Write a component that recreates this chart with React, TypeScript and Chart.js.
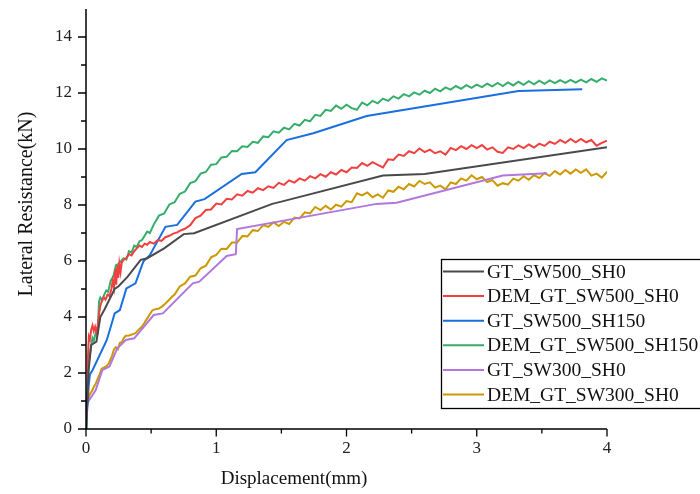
import React, { useEffect, useRef } from "react";
import { Chart, registerables } from "chart.js";

Chart.register(...registerables);

const SERIES_NAMES = [
  "GT_SW500_SH0",
  "DEM_GT_SW500_SH0",
  "GT_SW500_SH150",
  "DEM_GT_SW500_SH150",
  "GT_SW300_SH0",
  "DEM_GT_SW300_SH0",
];
const SERIES_COLORS = ["#4a4a4a", "#f14040", "#1a6fdf", "#37ad6b", "#b177de", "#cc9900"];

const X_TICKS = [0, 1, 2, 3, 4];
const X_MINOR = [0.5, 1.5, 2.5, 3.5];
const Y_TICKS = [0, 2, 4, 6, 8, 10, 12, 14];
const Y_MINOR = [1, 3, 5, 7, 9, 11, 13];

const GT_SW500_SH0 = [
  [0, 0], [0.01, 1.0], [0.02, 2.1], [0.04, 3.0], [0.08, 3.12], [0.11, 4.0], [0.14, 4.25],
  [0.22, 5.0], [0.25, 5.1], [0.32, 5.44], [0.42, 6.04], [0.47, 6.1], [0.6, 6.45], [0.75, 6.96],
  [0.83, 6.99], [1.43, 8.04], [1.5, 8.12], [2.28, 9.05], [2.6, 9.11], [4.0, 10.06],
];

const DEM_GT_SW500_SH0 = [
  [0, 0], [0.008, 1.2], [0.015, 2.6], [0.022, 3.3], [0.03, 3.2], [0.04, 3.55], [0.05, 3.7],
  [0.06, 3.5], [0.07, 3.65], [0.08, 3.45], [0.09, 3.7], [0.1, 4.1], [0.11, 4.4], [0.12, 4.55],
  [0.135, 4.7], [0.15, 4.62], [0.165, 4.8], [0.18, 4.75], [0.195, 5.0], [0.205, 5.3],
  [0.215, 5.05], [0.225, 5.7], [0.232, 5.15], [0.24, 5.85], [0.248, 5.4], [0.256, 5.9],
  [0.265, 5.6], [0.275, 5.95], [0.29, 6.05], [0.31, 6.1], [0.33, 6.25], [0.35, 6.2],
  [0.37, 6.35], [0.39, 6.45], [0.41, 6.55], [0.43, 6.5], [0.45, 6.62], [0.47, 6.58],
  [0.49, 6.68], [0.52, 6.62], [0.55, 6.75], [0.58, 6.72], [0.61, 6.85], [0.64, 6.9],
  [0.67, 6.98], [0.7, 7.02], [0.73, 7.1], [0.76, 7.15],
  [0.8, 7.28], [0.84, 7.53], [0.88, 7.62], [0.92, 7.82], [0.96, 7.84], [1.0, 8.05],
  [1.04, 8.02], [1.08, 8.22], [1.12, 8.2], [1.16, 8.38], [1.2, 8.33], [1.24, 8.5],
  [1.28, 8.44], [1.32, 8.6], [1.36, 8.53], [1.4, 8.67], [1.44, 8.61], [1.48, 8.79],
  [1.52, 8.72], [1.56, 8.88], [1.6, 8.8], [1.64, 8.95], [1.68, 8.87], [1.72, 9.03],
  [1.76, 8.95], [1.8, 9.1], [1.84, 9.01], [1.88, 9.17], [1.92, 9.09], [1.96, 9.25],
  [2.0, 9.17], [2.04, 9.34], [2.08, 9.32], [2.12, 9.5], [2.16, 9.4], [2.2, 9.53],
  [2.24, 9.43], [2.28, 9.34], [2.32, 9.63], [2.36, 9.61], [2.4, 9.8], [2.44, 9.75],
  [2.48, 9.92], [2.52, 9.85], [2.56, 10.02], [2.6, 9.89], [2.64, 9.98], [2.68, 9.85],
  [2.72, 9.92], [2.76, 9.8], [2.8, 10.04], [2.84, 9.96], [2.88, 10.1], [2.92, 10.0],
  [2.96, 10.14], [3.0, 10.03], [3.04, 10.14], [3.08, 9.98], [3.12, 10.06], [3.16, 9.9],
  [3.2, 9.86], [3.24, 10.06], [3.28, 10.0], [3.32, 10.13], [3.36, 10.03], [3.4, 10.16],
  [3.44, 10.05], [3.48, 10.19], [3.52, 10.11], [3.56, 10.26], [3.6, 10.18], [3.64, 10.32],
  [3.68, 10.22], [3.72, 10.36], [3.76, 10.24], [3.8, 10.36], [3.84, 10.24], [3.88, 10.32],
  [3.92, 10.12], [3.96, 10.22], [4.0, 10.3],
];

const GT_SW500_SH150 = [
  [0, 0], [0.02, 1.5], [0.03, 1.95], [0.05, 2.1], [0.16, 3.18], [0.22, 4.13], [0.26, 4.25],
  [0.31, 5.02], [0.38, 5.2], [0.44, 5.98], [0.49, 6.21], [0.61, 7.22], [0.7, 7.29],
  [0.84, 8.12], [0.91, 8.21], [1.195, 9.11], [1.3, 9.17], [1.54, 10.32], [1.745, 10.56],
  [2.155, 11.18], [3.32, 12.07], [3.81, 12.13],
];

const DEM_GT_SW500_SH150 = [
  [0, 0], [0.005, 0.5], [0.012, 1.5], [0.02, 2.3], [0.03, 2.7], [0.04, 3.0], [0.05, 3.25],
  [0.06, 3.15], [0.07, 3.35], [0.08, 3.5], [0.09, 3.45], [0.1, 4.55], [0.11, 4.7],
  [0.125, 4.6], [0.14, 4.8], [0.155, 4.95], [0.17, 4.9], [0.19, 5.3], [0.21, 5.45],
  [0.23, 5.85], [0.25, 5.9], [0.27, 6.0], [0.29, 6.1], [0.31, 6.05], [0.33, 6.35],
  [0.35, 6.3], [0.37, 6.55], [0.39, 6.5], [0.41, 6.7], [0.43, 6.75], [0.45, 6.9],
  [0.47, 7.05], [0.49, 7.0],
  [0.52, 7.3], [0.56, 7.62], [0.6, 7.7], [0.64, 8.02], [0.68, 8.1], [0.72, 8.4], [0.76, 8.48],
  [0.8, 8.78], [0.84, 8.85], [0.88, 9.12], [0.92, 9.18], [0.96, 9.44], [1.0, 9.46],
  [1.04, 9.7], [1.08, 9.72], [1.12, 9.93], [1.16, 9.92], [1.2, 10.1], [1.24, 10.07],
  [1.28, 10.26], [1.32, 10.22], [1.36, 10.45], [1.4, 10.42], [1.44, 10.63], [1.48, 10.58],
  [1.52, 10.76], [1.56, 10.7], [1.6, 10.9], [1.64, 10.84], [1.68, 11.04], [1.72, 10.99],
  [1.76, 11.22], [1.8, 11.18], [1.84, 11.4], [1.88, 11.36], [1.92, 11.55], [1.96, 11.44],
  [2.0, 11.58], [2.04, 11.46], [2.08, 11.4], [2.12, 11.66], [2.16, 11.56], [2.2, 11.72],
  [2.24, 11.63], [2.28, 11.8], [2.32, 11.72], [2.36, 11.88], [2.4, 11.8], [2.44, 11.96],
  [2.48, 11.88], [2.52, 12.02], [2.56, 11.94], [2.6, 12.08], [2.64, 12.0], [2.68, 12.15],
  [2.72, 12.06], [2.76, 12.2], [2.8, 12.12], [2.84, 12.25], [2.88, 12.15], [2.92, 12.28],
  [2.96, 12.18], [3.0, 12.3], [3.04, 12.21], [3.08, 12.33], [3.12, 12.24], [3.16, 12.36],
  [3.2, 12.25], [3.24, 12.38], [3.28, 12.27], [3.32, 12.4], [3.36, 12.29], [3.4, 12.42],
  [3.44, 12.31], [3.48, 12.44], [3.52, 12.33], [3.56, 12.45], [3.6, 12.35], [3.64, 12.46],
  [3.68, 12.36], [3.72, 12.47], [3.76, 12.37], [3.8, 12.48], [3.84, 12.38], [3.88, 12.5],
  [3.92, 12.4], [3.96, 12.52], [4.0, 12.44],
];

const GT_SW300_SH0 = [
  [0, 0], [0.01, 0.9], [0.025, 1.04], [0.075, 1.39], [0.125, 2.1], [0.18, 2.23], [0.24, 2.88],
  [0.305, 3.18], [0.37, 3.24], [0.52, 4.07], [0.59, 4.13], [0.82, 5.2], [0.87, 5.26],
  [1.08, 6.18], [1.15, 6.24], [1.16, 7.14], [2.23, 8.04], [2.385, 8.08], [3.2, 9.05],
  [3.54, 9.13],
];

const DEM_GT_SW300_SH0 = [
  [0, 0], [0.005, 0.5], [0.01, 1.0], [0.02, 1.1], [0.03, 1.25], [0.045, 1.35], [0.06, 1.5],
  [0.075, 1.62], [0.09, 1.8], [0.105, 1.95], [0.12, 2.15], [0.14, 2.2], [0.16, 2.25],
  [0.175, 2.35], [0.19, 2.5], [0.2, 2.62], [0.215, 2.85], [0.23, 2.92], [0.245, 2.85],
  [0.26, 3.08], [0.275, 3.1], [0.29, 3.25], [0.305, 3.33], [0.33, 3.34], [0.355, 3.38],
  [0.38, 3.42], [0.405, 3.55], [0.43, 3.66], [0.45, 3.8], [0.47, 3.95], [0.49, 4.1],
  [0.51, 4.24], [0.535, 4.28], [0.56, 4.3], [0.585, 4.38], [0.61, 4.48], [0.635, 4.6],
  [0.66, 4.72],
  [0.68, 4.8], [0.72, 5.09], [0.76, 5.2], [0.8, 5.44], [0.84, 5.48], [0.88, 5.74],
  [0.92, 5.83], [0.96, 6.13], [1.0, 6.22], [1.04, 6.44], [1.08, 6.43], [1.12, 6.66],
  [1.16, 6.66], [1.2, 6.89], [1.24, 6.88], [1.28, 7.1], [1.32, 7.07], [1.36, 7.28],
  [1.4, 7.22], [1.44, 7.38], [1.48, 7.25], [1.52, 7.4], [1.56, 7.32], [1.6, 7.55],
  [1.64, 7.52], [1.68, 7.74], [1.72, 7.7], [1.76, 7.93], [1.8, 7.82], [1.84, 7.97],
  [1.88, 7.84], [1.92, 8.01], [1.96, 7.94], [2.0, 8.14], [2.04, 8.1], [2.08, 8.42],
  [2.12, 8.34], [2.16, 8.45], [2.2, 8.28], [2.24, 8.38], [2.28, 8.26], [2.32, 8.52],
  [2.36, 8.47], [2.4, 8.65], [2.44, 8.56], [2.48, 8.75], [2.52, 8.66], [2.56, 8.86],
  [2.6, 8.75], [2.64, 8.81], [2.68, 8.62], [2.72, 8.69], [2.76, 8.56], [2.8, 8.81],
  [2.84, 8.75], [2.88, 8.95], [2.92, 8.87], [2.96, 9.06], [3.0, 8.92], [3.04, 9.0],
  [3.08, 8.82], [3.12, 8.89], [3.16, 8.69], [3.2, 8.78], [3.24, 8.73], [3.28, 8.94],
  [3.32, 8.87], [3.36, 9.03], [3.4, 8.9], [3.44, 9.07], [3.48, 8.96], [3.52, 9.14],
  [3.56, 9.04], [3.6, 9.21], [3.64, 9.09], [3.68, 9.25], [3.72, 9.12], [3.76, 9.27],
  [3.8, 9.15], [3.84, 9.27], [3.88, 9.05], [3.92, 9.12], [3.96, 8.98], [4.0, 9.19],
];

const SERIES_DATA = [
  GT_SW500_SH0,
  DEM_GT_SW500_SH0,
  GT_SW500_SH150,
  DEM_GT_SW500_SH150,
  GT_SW300_SH0,
  DEM_GT_SW300_SH0,
];

const X_TITLE = "Displacement(mm)";
const Y_TITLE = "Lateral Resistance(kN)";
const FONT = "'Liberation Serif', 'Times New Roman', serif";

const decorPlugin = {
  id: "decor",
  afterDraw(chart: any) {
    const ctx = chart.ctx;
    const xs = chart.scales.x;
    const ys = chart.scales.y;
    const area = chart.chartArea;
    ctx.save();
    ctx.strokeStyle = "#000";
    ctx.lineWidth = 1.5;
    ctx.beginPath();
    ctx.moveTo(area.left, area.top);
    ctx.lineTo(area.left, area.bottom);
    ctx.lineTo(area.right, area.bottom);
    ctx.stroke();
    ctx.lineWidth = 1.3;
    ctx.beginPath();
    X_TICKS.forEach((v) => {
      const p = xs.getPixelForValue(v);
      ctx.moveTo(p, area.bottom);
      ctx.lineTo(p, area.bottom + 7.5);
    });
    X_MINOR.forEach((v) => {
      const p = xs.getPixelForValue(v);
      ctx.moveTo(p, area.bottom);
      ctx.lineTo(p, area.bottom + 4.5);
    });
    Y_TICKS.forEach((v) => {
      const p = ys.getPixelForValue(v);
      ctx.moveTo(area.left, p);
      ctx.lineTo(area.left - 8, p);
    });
    Y_MINOR.forEach((v) => {
      const p = ys.getPixelForValue(v);
      ctx.moveTo(area.left, p);
      ctx.lineTo(area.left - 5, p);
    });
    ctx.stroke();

    ctx.fillStyle = "#111";
    ctx.font = `19px ${FONT}`;
    ctx.textAlign = "center";
    ctx.textBaseline = "middle";
    ctx.fillText(X_TITLE, 294, 479);
    ctx.save();
    ctx.translate(27, 204);
    ctx.rotate(-Math.PI / 2);
    ctx.font = `20px ${FONT}`;
    ctx.fillText(Y_TITLE, 0, 0);
    ctx.restore();

    const lx = 441.5, ly = 259.5, lw = 262, lh = 149;
    ctx.fillStyle = "#fff";
    ctx.fillRect(lx, ly, lw, lh);
    ctx.strokeStyle = "#000";
    ctx.lineWidth = 1.3;
    ctx.strokeRect(lx, ly, lw, lh);
    ctx.font = `19.5px ${FONT}`;
    ctx.textAlign = "left";
    ctx.textBaseline = "middle";
    chart.data.datasets.forEach((ds: any, i: number) => {
      const y = 271.5 + i * 24.6;
      ctx.strokeStyle = ds.borderColor;
      ctx.lineWidth = 2;
      ctx.beginPath();
      ctx.moveTo(443, y);
      ctx.lineTo(484, y);
      ctx.stroke();
      ctx.fillStyle = "#111";
      ctx.fillText(ds.label, 487, y + 1);
    });
    ctx.restore();
  },
};

export default function App() {
  const ref = useRef<HTMLCanvasElement | null>(null);
  useEffect(() => {
    if (!ref.current) return;
    const chart = new Chart(ref.current, {
      type: "line",
      data: {
        datasets: SERIES_NAMES.map((name, i) => ({
          label: name,
          data: SERIES_DATA[i].map(([x, y]) => ({ x, y })),
          borderColor: SERIES_COLORS[i],
          backgroundColor: SERIES_COLORS[i],
          borderWidth: 2,
          pointRadius: 0,
          tension: 0,
          fill: false,
        })),
      },
      options: {
        animation: false,
        responsive: false,
        maintainAspectRatio: false,
        layout: { padding: { top: 9, right: 93, left: 0, bottom: 0 } },
        plugins: { legend: { display: false }, tooltip: { enabled: false } },
        scales: {
          x: {
            type: "linear",
            min: 0,
            max: 4,
            grid: { display: false, drawTicks: false },
            border: { display: false },
            afterBuildTicks: (s: any) => {
              s.ticks = X_TICKS.map((v) => ({ value: v }));
            },
            afterFit: (s: any) => {
              s.height = 65;
              s.paddingLeft = 0;
              s.paddingRight = 0;
            },
            ticks: {
              padding: 9,
              color: "#222",
              font: { family: FONT, size: 17 },
              maxRotation: 0,
            },
          },
          y: {
            type: "linear",
            min: 0,
            max: 15,
            grid: { display: false, drawTicks: false },
            border: { display: false },
            afterBuildTicks: (s: any) => {
              s.ticks = Y_TICKS.map((v) => ({ value: v }));
            },
            afterFit: (s: any) => {
              s.width = 86;
              s.paddingTop = 0;
              s.paddingBottom = 0;
            },
            ticks: {
              padding: 14,
              color: "#222",
              font: { family: FONT, size: 17 },
            },
          },
        },
      },
      plugins: [decorPlugin],
    });
    return () => chart.destroy();
  }, []);
  return (
    <div style={{ position: "fixed", left: 0, top: 0, width: 700, height: 494, background: "#fff" }}>
      <canvas ref={ref} width={700} height={494} />
    </div>
  );
}
